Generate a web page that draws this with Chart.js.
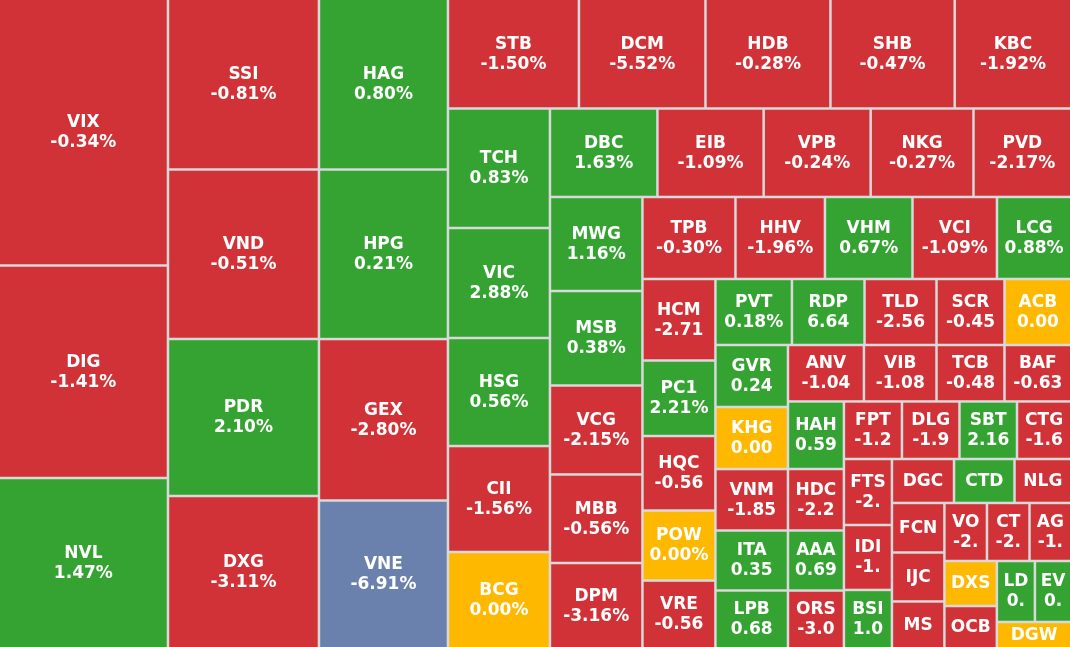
<!DOCTYPE html>
<html>
<head>
<meta charset="utf-8">
<script src="https://cdn.jsdelivr.net/npm/chart.js@4/dist/chart.umd.min.js"></script>
<style>
  html, body { margin: 0; padding: 0; background: #d9d9d9; }
  #wrap { width: 1070px; height: 647px; }
</style>
</head>
<body>
<div id="wrap"><canvas id="heatmap" width="1070" height="647"></canvas></div>
<script>
// stock codes, in the order the map lays them out
var tickers = ['VIX','DIG','NVL','SSI','VND','PDR','DXG','HAG','HPG','GEX','VNE',
  'STB','DCM','HDB','SHB','KBC','TCH','VIC','HSG','CII','BCG',
  'DBC','EIB','VPB','NKG','PVD','MWG','MSB','VCG','MBB','DPM',
  'TPB','HHV','VHM','VCI','LCG','HCM','PC1','HQC','POW','VRE',
  'PVT','RDP','TLD','SCR','ACB','GVR','KHG','VNM','ITA','LPB',
  'ANV','VIB','TCB','BAF','HAH','HDC','AAA','ORS',
  'FPT','DLG','SBT','CTG','FTS','IDI','BSI','DGC','CTD','NLG',
  'FCN','IJC','MS','VO','CT','AG','DXS','OCB','LD','EV','DGW'];

// cell size (trading weight)
var weights = [446.0, 357.0, 283.9, 255.9, 255.9, 237.1, 228.0, 218.7, 218.7, 208.3, 189.0,
  142.1, 137.3, 135.6, 134.8, 125.1, 121.9, 112.2, 110.2, 108.1, 96.9,
  95.1, 94.0, 94.7, 91.0, 85.4, 87.0, 87.4, 82.3, 81.9, 77.7,
  76.3, 73.4, 71.8, 69.3, 59.9, 59.5, 55.1, 54.4, 51.1, 48.5,
  50.5, 47.9, 47.5, 44.9, 43.2, 45.0, 45.0, 44.6, 43.5, 41.0,
  42.9, 41.0, 38.4, 37.0, 37.8, 34.4, 33.6, 31.6,
  33.4, 33.1, 33.1, 30.5, 31.7, 31.2, 27.4, 27.3, 26.6, 24.4,
  26.0, 25.7, 23.9, 24.7, 24.7, 23.5, 23.6, 21.5, 23.2, 21.4, 18.3];

// price change, %
var changes = [-0.34, -1.41, 1.47, -0.81, -0.51, 2.10, -3.11, 0.80, 0.21, -2.80, -6.91,
  -1.50, -5.52, -0.28, -0.47, -1.92, 0.83, 2.88, 0.56, -1.56, 0.00,
  1.63, -1.09, -0.24, -0.27, -2.17, 1.16, 0.38, -2.15, -0.56, -3.16,
  -0.30, -1.96, 0.67, -1.09, 0.88, -2.71, 2.21, -0.56, 0.00, -0.56,
  0.18, 6.64, -2.56, -0.45, 0.00, 0.24, 0.00, -1.85, 0.35, 0.68,
  -1.04, -1.08, -0.48, -0.63, 0.59, -2.20, 0.69, -3.00,
  -1.20, -1.90, 2.16, -1.60, -2.50, -1.50, 1.05, -1.20, 0.90, -0.80,
  -1.30, -1.10, -0.90, -2.30, -2.10, -1.40, 0.00, -0.40, 0.40, 0.60, 0.00];

function colorFor(v) {
  if (v <= -6.9) return '#6a81ad';   // floor
  if (v < 0) return '#d13237';
  if (v > 0) return '#34a331';
  return '#ffb800';
}

function aspect(w, h) { return Math.max(w / h, h / w); }

// squarified layout: a strip keeps growing while its last cell gets squarer
function squarify(values, x0, y0, x1, y1) {
  var out = [], total = 0;
  values.forEach(function (v) { total += v; });
  var unit = (x1 - x0) * (y1 - y0) / total;
  var areas = values.map(function (v) { return v * unit; });
  var n = areas.length, i = 0, k;
  while (i < n) {
    var dx = x1 - x0, dy = y1 - y0;
    var col = dx > dy;
    var side = col ? dy : dx;
    var s = areas[i], j = i + 1;
    while (j < n) {
      var prev = areas[j - 1];
      var t1 = s / side, t2 = (s + areas[j]) / side;
      if (aspect(t2, prev / t2) > aspect(t1, prev / t1)) break;
      s += areas[j];
      j++;
    }
    var t = s / side, pos = col ? y0 : x0;
    for (k = i; k < j; k++) {
      var len = areas[k] / t;
      out[k] = col ? { x0: x0, y0: pos, x1: x0 + t, y1: pos + len }
                   : { x0: pos, y0: y0, x1: pos + len, y1: y0 + t };
      pos += len;
    }
    if (col) x0 += t; else y0 += t;
    i = j;
  }
  return out;
}

function fitText(ctx, s, maxW) {
  while (s.length > 1 && ctx.measureText(s).width > maxW) s = s.slice(0, -1);
  return s;
}

class CellElement extends Chart.Element {
  static id = 'cell';
  static defaults = { backgroundColor: '#999', textColor: '#fff', gap: 1.25, fontSize: 17 };

  draw(ctx, area) {
    var o = this.options, g = o.gap;
    var l = this.x, t = this.y, r = this.x + this.w, b = this.y + this.h;
    if (l > area.left + 0.5) l += g;
    if (t > area.top + 0.5) t += g;
    if (r < area.right - 0.5) r -= g;
    if (b < area.bottom - 0.5) b -= g;
    ctx.save();
    ctx.fillStyle = o.backgroundColor;
    ctx.fillRect(l, t, r - l, b - t);
    ctx.fillStyle = o.textColor;
    ctx.font = 'bold ' + o.fontSize + 'px "DejaVu Sans", Verdana, sans-serif';
    ctx.textAlign = 'center';
    ctx.textBaseline = 'middle';
    var cx = (l + r) / 2, cy = (t + b) / 2;
    if (this.h >= 53) {
      ctx.fillText(this.label, cx, cy - 9.5);
      ctx.fillText(fitText(ctx, this.note, this.w - 13.8), cx, cy + 10.5);
    } else {
      ctx.fillText(this.label, cx, cy + 0.5);
    }
    ctx.restore();
  }
}

class TreemapController extends Chart.DatasetController {
  static id = 'treemap';
  static defaults = { dataElementType: 'cell', datasetElementType: false };

  update(mode) {
    var meta = this._cachedMeta;
    this.updateElements(meta.data, 0, meta.data.length, mode);
  }

  updateElements(cells, start, count, mode) {
    var meta = this._cachedMeta, xs = meta.xScale, ys = meta.yScale;
    var ds = this.getDataset();
    var rects = squarify(ds.data, xs.min, ys.min, xs.max, ys.max);
    for (var i = start; i < start + count; i++) {
      var q = rects[i];
      var px0 = xs.getPixelForValue(q.x0), px1 = xs.getPixelForValue(q.x1);
      var py0 = ys.getPixelForValue(q.y0), py1 = ys.getPixelForValue(q.y1);
      this.updateElement(cells[i], i, {
        x: Math.min(px0, px1),
        y: Math.min(py0, py1),
        w: Math.abs(px1 - px0),
        h: Math.abs(py1 - py0),
        label: ds.tickers[i],
        note: ds.changes[i].toFixed(2) + '%',
        options: this.resolveDataElementOptions(i, mode)
      }, mode);
    }
  }
}

Chart.register(CellElement, TreemapController);

var ctx = document.getElementById('heatmap');
var heatmap = new Chart(ctx, {
  type: 'treemap',
  data: {
    datasets: [{
      data: weights,
      tickers: tickers,
      changes: changes,
      backgroundColor: changes.map(colorFor)
    }]
  },
  options: {
    responsive: false,
    animation: false,
    events: [],
    layout: { padding: 0 },
    plugins: { legend: { display: false }, tooltip: { enabled: false } },
    scales: {
      x: { type: 'linear', min: 0, max: 1070, display: false, bounds: 'data' },
      y: { type: 'linear', min: 0, max: 647, reverse: true, display: false, bounds: 'data' }
    }
  }
});
</script>
</body>
</html>
